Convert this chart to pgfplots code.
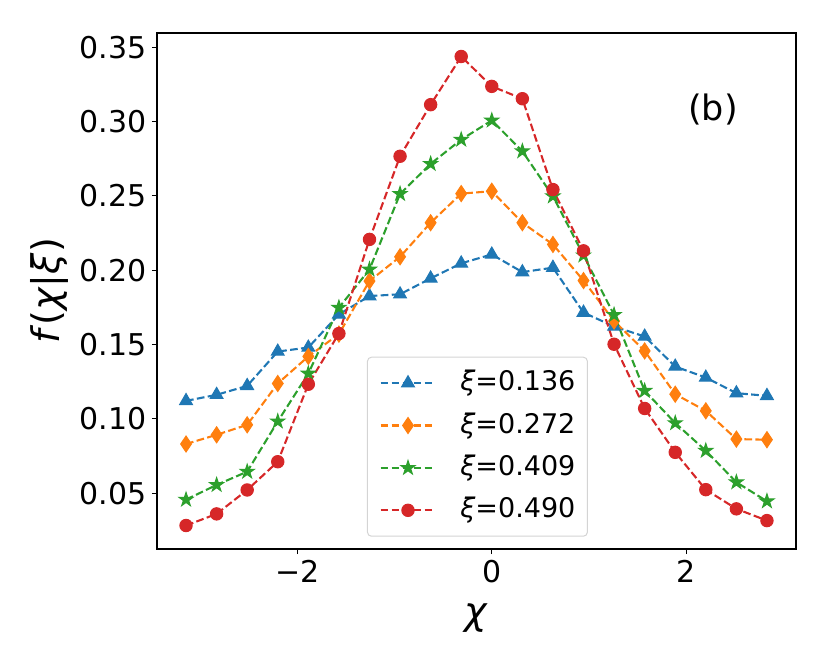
\documentclass[border=0pt]{standalone}
\usepackage{fontspec}
\setmainfont{DejaVu Sans}
\usepackage{pgfplots}
\pgfplotsset{compat=1.18}
\definecolor{c0}{HTML}{1F77B4}
\definecolor{c1}{HTML}{FF7F0E}
\definecolor{c2}{HTML}{2CA02C}
\definecolor{c3}{HTML}{D62728}
\pgfdeclareplotmark{fstar}{%
 \pgfpathmoveto{\pgfpointpolar{90}{\pgfplotmarksize}}%
 \pgfpathlineto{\pgfpointpolar{126}{0.382\pgfplotmarksize}}%
 \pgfpathlineto{\pgfpointpolar{162}{\pgfplotmarksize}}%
 \pgfpathlineto{\pgfpointpolar{198}{0.382\pgfplotmarksize}}%
 \pgfpathlineto{\pgfpointpolar{234}{\pgfplotmarksize}}%
 \pgfpathlineto{\pgfpointpolar{270}{0.382\pgfplotmarksize}}%
 \pgfpathlineto{\pgfpointpolar{306}{\pgfplotmarksize}}%
 \pgfpathlineto{\pgfpointpolar{342}{0.382\pgfplotmarksize}}%
 \pgfpathlineto{\pgfpointpolar{18}{\pgfplotmarksize}}%
 \pgfpathlineto{\pgfpointpolar{54}{0.382\pgfplotmarksize}}%
 \pgfpathclose
 \pgfusepathqfillstroke}
\pgfplotstableread{
x b o g r
-3.1416 0.1121 0.0831 0.0457 0.0283
-2.8274 0.1162 0.0893 0.0556 0.0361
-2.5133 0.1222 0.0960 0.0645 0.0522
-2.1991 0.1453 0.1238 0.0983 0.0712
-1.8850 0.1480 0.1420 0.1305 0.1233
-1.5708 0.1703 0.1570 0.1748 0.1574
-1.2566 0.1826 0.1927 0.2005 0.2207
-0.9425 0.1838 0.2090 0.2513 0.2766
-0.6283 0.1945 0.2319 0.2715 0.3113
-0.3142 0.2046 0.2515 0.2878 0.3437
0.0000 0.2106 0.2531 0.3007 0.3236
0.3142 0.1987 0.2319 0.2800 0.3153
0.6283 0.2017 0.2173 0.2497 0.2542
0.9425 0.1715 0.1930 0.2100 0.2130
1.2566 0.1621 0.1658 0.1699 0.1502
1.5708 0.1554 0.1457 0.1189 0.1070
1.8850 0.1352 0.1166 0.0972 0.0775
2.1991 0.1278 0.1054 0.0786 0.0524
2.5133 0.1173 0.0864 0.0574 0.0395
2.8274 0.1155 0.0860 0.0446 0.0316
}\datatable
\begin{document}
\begin{tikzpicture}
\path[use as bounding box] (-78.5pt,-57.5pt) rectangle (336.5pt,274.5pt);
\begin{axis}[
  scale only axis, width=319.5pt, height=258pt,
  xmin=-3.440, xmax=3.126, ymin=0.0125, ymax=0.3595,
  axis line style={line width=0.55pt},
  tick align=outside, major tick length=2.5pt,
  tick style={black, line width=0.55pt},
  xtick pos=left, ytick pos=left,
  xtick={-2,0,2}, xticklabels={−2,0,2},
  ytick={0.05,0.10,0.15,0.20,0.25,0.30,0.35},
  yticklabels={0.05,0.10,0.15,0.20,0.25,0.30,0.35},
  ticklabel style={font=\fontsize{15}{18}\selectfont},
  xticklabel style={inner sep=0pt, yshift=-3pt},
  yticklabel style={inner sep=0pt, xshift=-2.5pt},
  every axis x label/.style={at={(axis description cs:0.5,-0.133)}, anchor=center, font=\fontsize{19}{22}\selectfont},
  every axis y label/.style={at={(axis description cs:-0.169,0.5)}, rotate=90, anchor=center, font=\fontsize{19}{22}\selectfont},
  xlabel={\textit{χ}},
  ylabel={\textit{f}(\textit{χ}|\textit{ξ})},
  every axis plot/.append style={line width=1.04pt, dash pattern=on 3.85pt off 1.67pt},
  legend image code/.code={\draw[mark repeat=2,mark phase=2] plot coordinates {(0pt,0pt) (13.75pt,0pt) (27.5pt,0pt)};},
  legend cell align=left,
  legend style={at={(0.3286,0.0238)}, anchor=south west,
    draw=black!17, line width=0.5pt, fill=white,
    rounded corners=2pt, inner xsep=6pt, inner ysep=2.35pt, column sep=11.85pt,
    font=\fontsize{13.5}{16}\selectfont,
    nodes={inner xsep=0pt, inner ysep=3.35pt, text height=11pt, text depth=3.5pt}},
]
\addplot[c0, mark=triangle*, mark size=3.7pt, mark options={solid, fill=c0, line width=0.5pt}] table[x=x,y=b] {\datatable};
\addlegendentry{\textit{ξ}=0.136}
\addplot[c1, mark=diamond*, mark size=4.0pt, mark options={solid, fill=c1, line width=0.5pt, xscale=0.9}] table[x=x,y=o] {\datatable};
\addlegendentry{\textit{ξ}=0.272}
\addplot[c2, mark=fstar, mark size=3.7pt, mark options={solid, fill=c2, line width=0.5pt}] table[x=x,y=g] {\datatable};
\addlegendentry{\textit{ξ}=0.409}
\addplot[c3, mark=*, mark size=3.1pt, mark options={solid, fill=c3, line width=0.5pt}] table[x=x,y=r] {\datatable};
\addlegendentry{\textit{ξ}=0.490}
\node[font=\fontsize{17.5}{21}\selectfont] at (axis description cs:0.87,0.851) {(b)};
\end{axis}
\end{tikzpicture}
\end{document}
